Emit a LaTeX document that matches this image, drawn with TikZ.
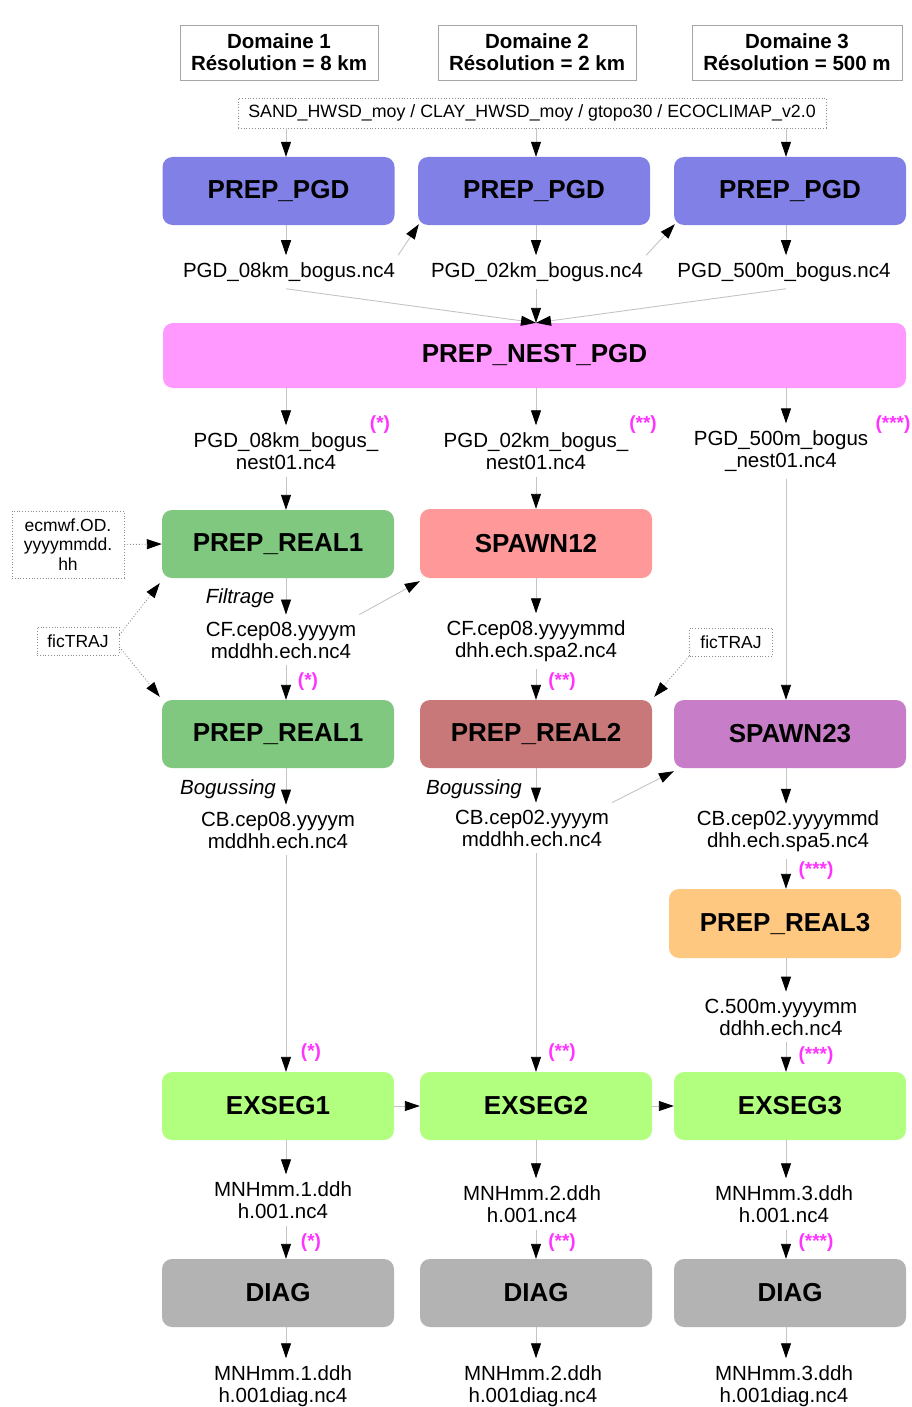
\documentclass[tikz,border=0pt]{standalone}
\usepackage{fontspec}
\setmainfont{Liberation Sans}
\usetikzlibrary{arrows.meta,calc}
\definecolor{cpgd}{HTML}{8080E6}
\definecolor{cnest}{HTML}{FF99FF}
\definecolor{creal}{HTML}{80C880}
\definecolor{cspawna}{HTML}{FF9999}
\definecolor{creald}{HTML}{C87878}
\definecolor{cspawnb}{HTML}{C87DC8}
\definecolor{crealc}{HTML}{FFC880}
\definecolor{cexseg}{HTML}{B2FF80}
\definecolor{cdiag}{HTML}{B3B3B3}
\definecolor{cstar}{HTML}{FF33FF}
\definecolor{cline}{HTML}{C4C4C4}
\tikzset{
  proc/.style={rounded corners=10pt,minimum width=232pt,minimum height=68pt,inner sep=0pt,
    font=\fontsize{26}{30}\selectfont\bfseries},
  dombox/.style={draw=black!35,line width=0.8pt,minimum height=55pt,inner sep=0pt,align=center,
    font=\fontsize{20.5}{22}\selectfont\bfseries},
  dotbox/.style={draw=black!45,dotted,line width=0.8pt,inner sep=0pt,align=center,
    font=\fontsize{17.5}{19.5}\selectfont},
  flab/.style={align=center,inner xsep=3pt,inner ysep=7pt,font=\fontsize{20.5}{22}\selectfont},
  star/.style={text=cstar,inner sep=0pt,font=\fontsize{19}{20}\selectfont\bfseries},
  itl/.style={inner sep=0pt,font=\fontsize{20.5}{22}\selectfont\itshape},
  arr/.style={draw=cline,line width=0.9pt,-{Triangle[width=10pt,length=15pt,color=black]}},
  darr/.style={draw=black!45,dotted,line width=0.9pt,-{Triangle[width=10pt,length=15pt,color=black]}},
}
\begin{document}
\begin{tikzpicture}[x=1pt,y=-1pt]
\useasboundingbox[fill=white] (0,0) rectangle (911,1407);
\coordinate (c1) at (286,0);
\coordinate (c2) at (536,0);
\coordinate (c3) at (786,0);
% domains
\node[dombox,minimum width=198pt] (dom1) at (279,52.5) {Domaine 1\\Résolution = 8 km};
\node[dombox,minimum width=198pt] (dom2) at (537,52.5) {Domaine 2\\Résolution = 2 km};
\node[dombox,minimum width=210pt] (dom3) at (797,52.5) {Domaine 3\\Résolution = 500 m};
\node[dotbox,minimum width=588pt,minimum height=30pt,font=\fontsize{17.8}{19}\selectfont] (src) at (532,113)
  {SAND\_HWSD\_moy / CLAY\_HWSD\_moy / gtopo30 / ECOCLIMAP\_v2.0};
% PREP_PGD
\node[proc,fill=cpgd] (pgd1) at (278.5,191) {PREP\_PGD};
\node[proc,fill=cpgd] (pgd2) at (534,191) {PREP\_PGD};
\node[proc,fill=cpgd] (pgd3) at (790,191) {PREP\_PGD};
\node[flab] (l1) at (289,272) {PGD\_08km\_bogus.nc4};
\node[flab] (l2) at (537,272) {PGD\_02km\_bogus.nc4};
\node[flab] (l3) at (784,272) {PGD\_500m\_bogus.nc4};
% nest
\node[proc,fill=cnest,minimum width=743pt,minimum height=65pt] (nest) at (534.5,355.5) {PREP\_NEST\_PGD};
\node[flab] (nl1) at (286,451) {PGD\_08km\_bogus\_\\nest01.nc4};
\node[flab] (nl2) at (536,451) {PGD\_02km\_bogus\_\\nest01.nc4};
\node[flab] (nl3) at (781,451) {PGD\_500m\_bogus\\\_nest01.nc4};
\node[star] (s1) at (380,425) {(*)};
\node[star] (s2) at (643,425) {(**)};
\node[star] (s3) at (893,425) {(***)};
% row REAL1 / SPAWN12
\node[proc,fill=creal] (r1) at (278,544) {PREP\_REAL1};
\node[proc,fill=cspawna,minimum height=69pt] (sp12) at (536,543.5) {SPAWN12};
\node[dotbox,minimum width=112pt,minimum height=67pt] (ecm) at (68,544.5) {ecmwf.OD.\\yyyymmdd.\\hh};
\node[itl] (filt) at (240,598) {Filtrage};
\node[flab] (cf1) at (281,640) {CF.cep08.yyyym\\mddhh.ech.nc4};
\node[flab] (cf2) at (536,641) {CF.cep08.yyyymmd\\dhh.ech.spa2.nc4};
\node[dotbox,minimum width=82pt,minimum height=28pt] (ft1) at (78,641) {ficTRAJ};
\node[dotbox,minimum width=83pt,minimum height=28pt] (ft2) at (731,642) {ficTRAJ};
\node[star] (s4) at (308,682) {(*)};
\node[star] (s5) at (562,682) {(**)};
% row REAL1b / REAL2 / SPAWN23
\node[proc,fill=creal] (r1b) at (278,734) {PREP\_REAL1};
\node[proc,fill=creald] (r2) at (536,734) {PREP\_REAL2};
\node[proc,fill=cspawnb] (sp23) at (790,734) {SPAWN23};
\node[itl] (bog1) at (228,789) {Bogussing};
\node[itl] (bog2) at (474,789) {Bogussing};
\node[flab] (cb1) at (278,830) {CB.cep08.yyyym\\mddhh.ech.nc4};
\node[flab] (cb2) at (532,828) {CB.cep02.yyyym\\mddhh.ech.nc4};
\node[flab] (cb3) at (788,831.5) {CB.cep02.yyyymmd\\dhh.ech.spa5.nc4};
\node[star] (s6) at (816,871) {(***)};
\node[proc,fill=crealc,minimum height=69pt] (r3) at (785,923.5) {PREP\_REAL3};
\node[flab] (c500) at (781,1017) {C.500m.yyyymm\\ddhh.ech.nc4};
\node[star] (s7) at (311,1053) {(*)};
\node[star] (s8) at (562,1053) {(**)};
\node[star] (s9) at (816,1056) {(***)};
% EXSEG
\node[proc,fill=cexseg] (ex1) at (278,1106) {EXSEG1};
\node[proc,fill=cexseg] (ex2) at (536,1106) {EXSEG2};
\node[proc,fill=cexseg] (ex3) at (790,1106) {EXSEG3};
\node[flab] (m1) at (283,1200) {MNHmm.1.ddh\\h.001.nc4};
\node[flab] (m2) at (532,1204) {MNHmm.2.ddh\\h.001.nc4};
\node[flab] (m3) at (784,1204) {MNHmm.3.ddh\\h.001.nc4};
\node[star] (s10) at (311,1243) {(*)};
\node[star] (s11) at (562,1243) {(**)};
\node[star] (s12) at (816,1243) {(***)};
% DIAG
\node[proc,fill=cdiag] (d1) at (278,1293) {DIAG};
\node[proc,fill=cdiag] (d2) at (536,1293) {DIAG};
\node[proc,fill=cdiag] (d3) at (790,1293) {DIAG};
\node[flab] (md1) at (283,1386) {MNHmm.1.ddh\\h.001diag.nc4};
\node[flab] (md2) at (533,1386) {MNHmm.2.ddh\\h.001diag.nc4};
\node[flab] (md3) at (784,1386) {MNHmm.3.ddh\\h.001diag.nc4};
% ---- connectors
\draw[arr] (src.south -| c1) -- (pgd1.north -| c1);
\draw[arr] (src.south -| c2) -- (pgd2.north -| c2);
\draw[arr] (src.south -| c3) -- (pgd3.north -| c3);
\draw[arr] (pgd1.south -| c1) -- (l1.north -| c1);
\draw[arr] (pgd2.south -| c2) -- (l2.north -| c2);
\draw[arr] (pgd3.south -| c3) -- (l3.north -| c3);
\draw[arr] (l1.north east) -- ($(pgd2.south west)+(1,-1)$);
\draw[arr] (l2.north east) -- ($(pgd3.south west)+(1,-1)$);
\draw[arr] (l1.south -| c1) -- (nest.north -| c2);
\draw[arr] (l2.south -| c2) -- (nest.north -| c2);
\draw[arr] (l3.south -| c3) -- (nest.north -| c2);
\draw[arr] (nest.south -| c1) -- (nl1.north -| c1);
\draw[arr] (nest.south -| c2) -- (nl2.north -| c2);
\draw[arr] (nest.south -| c3) -- (nl3.north -| c3);
\draw[arr] (nl1.south -| c1) -- (r1.north -| c1);
\draw[arr] (nl2.south -| c2) -- (sp12.north -| c2);
\draw[arr] (nl3.south -| c3) -- (sp23.north -| c3);
\draw[darr] (ecm.east) -- (r1.west);
\draw[arr] (r1.south -| c1) -- (cf1.north -| c1);
\draw[arr] (cf1.north east) -- ($(sp12.south west)+(0,3)$);
\draw[darr] ($(ft1.east)+(0,-6)$) -- ($(r1.south west)+(-2,5)$);
\draw[darr] ($(ft1.east)+(0,6)$) -- ($(r1b.north west)+(-2,-3)$);
\draw[arr] (sp12.south -| c2) -- (cf2.north -| c2);
\draw[arr] (cf1.south -| c1) -- (r1b.north -| c1);
\draw[arr] (cf2.south -| c2) -- (r2.north -| c2);
\draw[darr] (ft2.south west) -- ($(r2.north east)+(2,-3)$);
\draw[arr] (r1b.south -| c1) -- (cb1.north -| c1);
\draw[arr] (r2.south -| c2) -- (cb2.north -| c2);
\draw[arr] (sp23.south -| c3) -- (cb3.north -| c3);
\draw[arr] (cb2.north east) -- ($(sp23.south west)+(0,3)$);
\draw[arr] (cb3.south -| c3) -- (r3.north -| c3);
\draw[arr] (r3.south -| c3) -- (c500.north -| c3);
\draw[arr] (c500.south -| c3) -- (ex3.north -| c3);
\draw[arr] (cb1.south -| c1) -- (ex1.north -| c1);
\draw[arr] (cb2.south -| c2) -- (ex2.north -| c2);
\draw[arr] (ex1.east) -- (ex2.west);
\draw[arr] (ex2.east) -- (ex3.west);
\draw[arr] (ex1.south -| c1) -- (m1.north -| c1);
\draw[arr] (ex2.south -| c2) -- (m2.north -| c2);
\draw[arr] (ex3.south -| c3) -- (m3.north -| c3);
\draw[arr] (m1.south -| c1) -- (d1.north -| c1);
\draw[arr] (m2.south -| c2) -- (d2.north -| c2);
\draw[arr] (m3.south -| c3) -- (d3.north -| c3);
\draw[arr] (d1.south -| c1) -- (md1.north -| c1);
\draw[arr] (d2.south -| c2) -- (md2.north -| c2);
\draw[arr] (d3.south -| c3) -- (md3.north -| c3);
\end{tikzpicture}
\end{document}
